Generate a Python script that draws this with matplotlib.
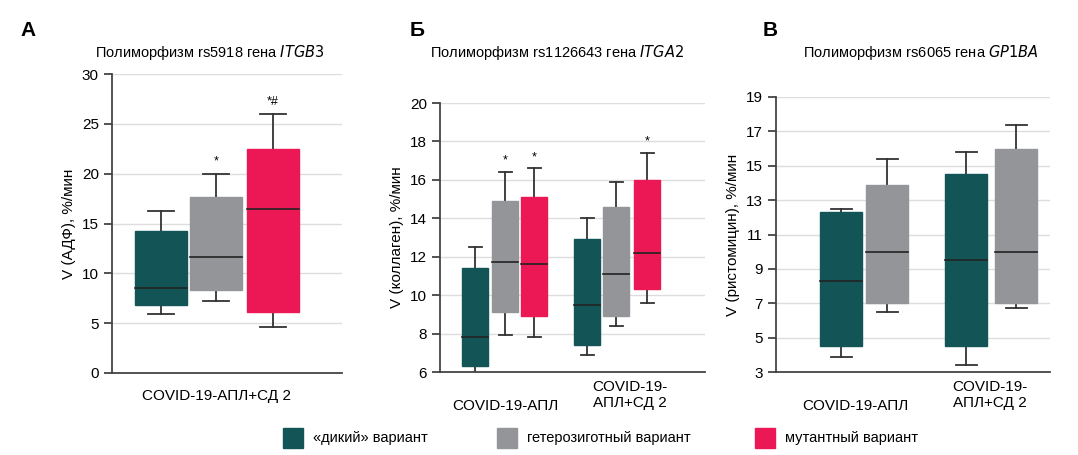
import matplotlib.pyplot as plt
from matplotlib.patches import Rectangle

GREEN = "#135457"
GRAY = "#939598"
RED = "#ec1856"
COLORS = [GREEN, GRAY, RED]

# (whisker_low, q1, median, q3, whisker_high)
A_STATS = [
    (5.9, 6.8, 8.5, 14.2, 16.3),
    (7.2, 8.3, 11.6, 17.7, 20.0),
    (4.6, 6.1, 16.5, 22.5, 26.0),
]
A_MARKS = ["", "*", "*#"]

B_STATS = [
    (5.5, 6.3, 7.8, 11.4, 12.5),
    (7.9, 9.1, 11.7, 14.9, 16.4),
    (7.8, 8.9, 11.6, 15.1, 16.6),
    (6.9, 7.4, 9.5, 12.9, 14.0),
    (8.4, 8.9, 11.1, 14.6, 15.9),
    (9.6, 10.3, 12.2, 16.0, 17.4),
]
B_MARKS = ["", "*", "*", "", "", "*"]

V_STATS = [
    (3.9, 4.5, 8.3, 12.3, 12.5),
    (6.5, 7.0, 10.0, 13.9, 15.4),
    (3.4, 4.5, 9.5, 14.5, 15.8),
    (6.7, 7.0, 10.0, 16.0, 17.4),
]
V_MARKS = ["", "", "", ""]

plt.rcParams["font.family"] = ["Liberation Sans", "DejaVu Sans"]

fig = plt.figure(figsize=(10.78, 4.55), dpi=100)


def px_axes(left, right, top, bottom):
    W, H = 1078, 455
    return fig.add_axes([left / W, 1 - bottom / H, (right - left) / W, (bottom - top) / H])


def draw_panel(ax, stats, colors, centers, width, marks, ylim, yticks, ylabel):
    for s, c, x, m in zip(stats, colors, centers, marks):
        lo, q1, med, q3, hi = s
        ax.add_patch(Rectangle((x - width / 2, q1), width, q3 - q1, color=c, zorder=3))
        ax.plot([x, x], [q3, hi], color="#333333", lw=1.3, zorder=2)
        ax.plot([x, x], [lo, q1], color="#333333", lw=1.3, zorder=2)
        ax.plot([x - width / 4, x + width / 4], [hi, hi], color="#333333", lw=1.3, zorder=2)
        ax.plot([x - width / 4, x + width / 4], [lo, lo], color="#333333", lw=1.3, zorder=2)
        ax.plot([x - width / 2, x + width / 2], [med, med], color="#222222", lw=1.2, zorder=4)
        if m:
            ax.text(x, hi + (ylim[1] - ylim[0]) * 0.02, m, ha="center", va="bottom", fontsize=9)
    ax.set_ylim(*ylim)
    ax.set_yticks(yticks)
    ax.set_xticks([])
    ax.grid(axis="y", color="#dddddd", lw=1, zorder=0)
    ax.set_axisbelow(True)
    for sp in ["top", "right"]:
        ax.spines[sp].set_visible(False)
    for sp in ["left", "bottom"]:
        ax.spines[sp].set_color("#444444")
        ax.spines[sp].set_linewidth(1.3)
    ax.tick_params(axis="y", length=6, width=1.3, color="#444444", labelsize=11)
    ax.set_ylabel(ylabel, fontsize=11)


# panel A
axA = px_axes(112, 342, 74, 373)
axA.set_xlim(112, 342)
draw_panel(axA, A_STATS, COLORS, [161, 216, 273], 52, A_MARKS,
           (0, 30), range(0, 31, 5), "V (АДФ), %/мин")

# panel Б
axB = px_axes(440, 705, 103, 372)
axB.set_xlim(440, 705)
draw_panel(axB, B_STATS, COLORS * 2, [475, 505, 534, 587, 616, 647], 26, B_MARKS,
           (6, 20), range(6, 21, 2), "V (коллаген), %/мин")

# panel В
axV = px_axes(776, 1050, 97, 372)
axV.set_xlim(776, 1050)
draw_panel(axV, V_STATS, [GREEN, GRAY] * 2, [841, 887, 966, 1016], 42, V_MARKS,
           (3, 19), range(3, 20, 2), "V (ристомицин), %/мин")

# texts in figure pixels
def ftext(x, y, s, **kw):
    fig.text(x / 1078, 1 - y / 455, s, **kw)

ftext(20, 30, "А", fontsize=15, fontweight="bold", va="center")
ftext(410, 30, "Б", fontsize=15, fontweight="bold", va="center")
ftext(763, 30, "В", fontsize=15, fontweight="bold", va="center")

for x, y, gene in [(95, 53, "rs5918 гена "), (430, 53, "rs1126643 гена "), (803, 53, "rs6065 гена ")]:
    pass
ftext(95, 53, "Полиморфизм rs5918 гена $\\it{ITGB3}$", fontsize=10.5, va="center")
ftext(430, 53, "Полиморфизм rs1126643 гена $\\it{ITGA2}$", fontsize=10.5, va="center")
ftext(803, 53, "Полиморфизм rs6065 гена $\\it{GP1BA}$", fontsize=10.5, va="center")

ftext(216, 396, "COVID-19-АПЛ+СД 2", fontsize=11, ha="center", va="center")
ftext(505, 406, "COVID-19-АПЛ", fontsize=11, ha="center", va="center")
ftext(630, 395, "COVID-19-\nАПЛ+СД 2", fontsize=11, ha="center", va="center", linespacing=1.1)
ftext(855, 406, "COVID-19-АПЛ", fontsize=11, ha="center", va="center")
ftext(990, 395, "COVID-19-\nАПЛ+СД 2", fontsize=11, ha="center", va="center", linespacing=1.1)

# legend
for x, c, lab in [(283, GREEN, "«дикий» вариант"), (497, GRAY, "гетерозиготный вариант"),
                  (755, RED, "мутантный вариант")]:
    fig.patches.append(Rectangle((x / 1078, 1 - 448 / 455), 20 / 1078, 20 / 455,
                                 color=c, transform=fig.transFigure))
    ftext(x + 30, 438, lab, fontsize=10.5, va="center")

fig.savefig("out.png", dpi=100)
